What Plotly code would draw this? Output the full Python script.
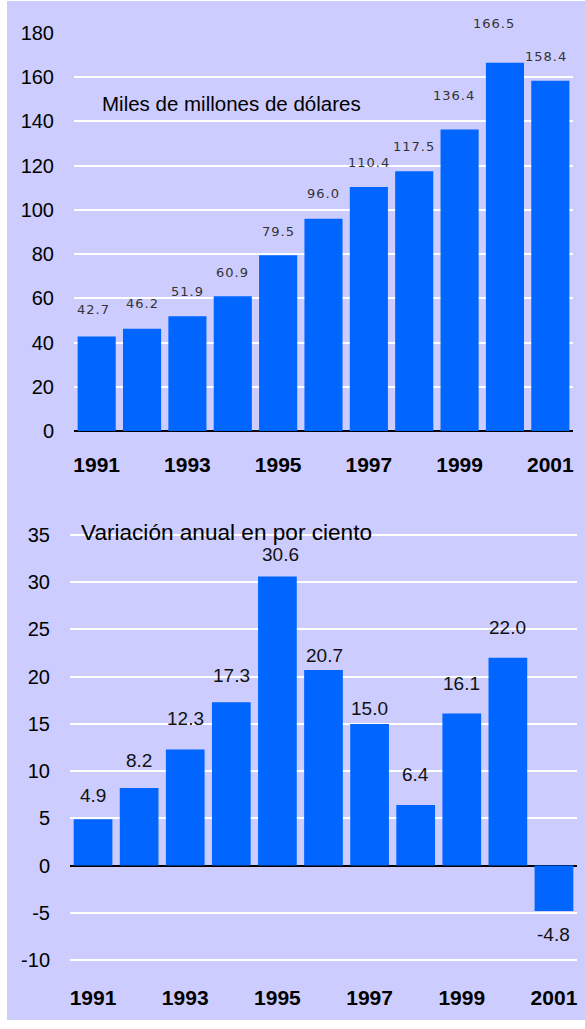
import plotly.graph_objects as go

years = ["1991", "1992", "1993", "1994", "1995", "1996", "1997", "1998", "1999", "2000", "2001"]
tick_years = ["1991", "1993", "1995", "1997", "1999", "2001"]
exports = [42.7, 46.2, 51.9, 60.9, 79.5, 96.0, 110.4, 117.5, 136.4, 166.5, 158.4]
growth = [4.9, 8.2, 12.3, 17.3, 30.6, 20.7, 15.0, 6.4, 16.1, 22.0, -4.8]
top_ticks = [0, 20, 40, 60, 80, 100, 120, 140, 160, 180]
bottom_ticks = [-10, -5, 0, 5, 10, 15, 20, 25, 30, 35]

title_top = "Miles de millones de dólares"
title_bottom = "Variación anual en por ciento"

# label offsets (pixels) - styling only
top_yshift = [27, 25, 25, 24, 24, 25, 24, 25, 34, 39, 24]
top_xshift = [-3, 0, 0, 0, 0, 0, 0, 0, -6, -11, -4]
bot_yshift = [24, 28, 31, 27, 22, 15, 15, 31, 30, 30, -24]
bot_xshift = [0, 0, 0, 0, 3, 1, 0, 0, 0, 0, 0]

W, H = 585, 1029
BAR = "#0066FF"
BG = "#CCCCFF"
ARIAL = "Arial, Liberation Sans, sans-serif"

def px(x):
    return x / W

def py(y):
    return 1 - y / H

fig = go.Figure()
fig.add_trace(go.Bar(x=years, y=exports, marker_color=BAR, marker_line_width=0,
                     xaxis="x", yaxis="y", cliponaxis=False, hoverinfo="x+y"))
fig.add_trace(go.Bar(x=years, y=growth, marker_color=BAR, marker_line_width=0,
                     xaxis="x2", yaxis="y2", cliponaxis=False, hoverinfo="x+y"))

annotations = []
for i, v in enumerate(exports):
    annotations.append(dict(x=i, y=v, xref="x", yref="y",
                            text=f'<span style="letter-spacing:1px">{v:.1f}</span>', showarrow=False,
                            yanchor="middle", xanchor="center", yshift=top_yshift[i], xshift=top_xshift[i],
                            font=dict(family="DejaVu Sans, Verdana, sans-serif", size=13, color="#333333")))
for i, v in enumerate(growth):
    annotations.append(dict(x=i, y=v, xref="x2", yref="y2", text=f"{v:.1f}", showarrow=False,
                            yanchor="middle", xanchor="center", yshift=bot_yshift[i], xshift=bot_xshift[i],
                            font=dict(family=ARIAL, size=19, color="#111111")))
annotations.append(dict(x=px(100), y=py(103), xref="paper", yref="paper", text=title_top,
                        showarrow=False, xanchor="left", yanchor="middle",
                        font=dict(family=ARIAL, size=20.5, color="#000000")))
annotations.append(dict(x=px(79), y=py(532), xref="paper", yref="paper", text=title_bottom,
                        showarrow=False, xanchor="left", yanchor="middle",
                        font=dict(family=ARIAL, size=22.6, color="#000000")))

common_y = dict(showgrid=True, gridcolor="white", gridwidth=2, zeroline=True,
                zerolinecolor="black", zerolinewidth=2, showline=False, automargin=False,
                ticks="outside", ticklen=15, tickcolor="rgba(0,0,0,0)",
                tickfont=dict(family=ARIAL, size=20, color="#000000"))
common_x = dict(type="category", tickvals=tick_years, ticktext=tick_years, showgrid=False,
                zeroline=False, showline=False, ticks="outside", automargin=False,
                tickcolor="rgba(0,0,0,0)", range=[-0.5, 10.5], tickangle=0,
                tickfont=dict(family=ARIAL, size=21, color="#000000", weight="bold"))

# bottom panel: 9.444 px per unit; pad range by 0.2 so edge gridlines render
fig.update_layout(
    width=W, height=H,
    margin=dict(l=0, r=0, t=0, b=0, autoexpand=False),
    paper_bgcolor="white",
    plot_bgcolor="rgba(0,0,0,0)",
    showlegend=False,
    bargap=0.16,
    xaxis=dict(domain=[px(74), px(573)], anchor="y", ticklen=15, **common_x),
    yaxis=dict(domain=[py(431), py(32.1)], anchor="x", range=[0, 180.4],
               tickvals=top_ticks, ticktext=[str(t) for t in top_ticks], **common_y),
    xaxis2=dict(domain=[px(70), px(577)], anchor="y2", ticklen=17, **common_x),
    yaxis2=dict(domain=[py(961.9), py(533.1)], anchor="x2", range=[-10.2, 35.2],
                tickvals=bottom_ticks, ticktext=[str(t) for t in bottom_ticks], **common_y),
    shapes=[dict(type="rect", xref="paper", yref="paper", x0=px(7), x1=1.0, y0=py(1020), y1=py(1),
                 fillcolor=BG, line_width=0, layer="below")],
    annotations=annotations,
)

fig.write_html("out.html", config={"displayModeBar": False},
               post_script="document.body.style.margin='0';document.body.style.overflow='hidden';")
